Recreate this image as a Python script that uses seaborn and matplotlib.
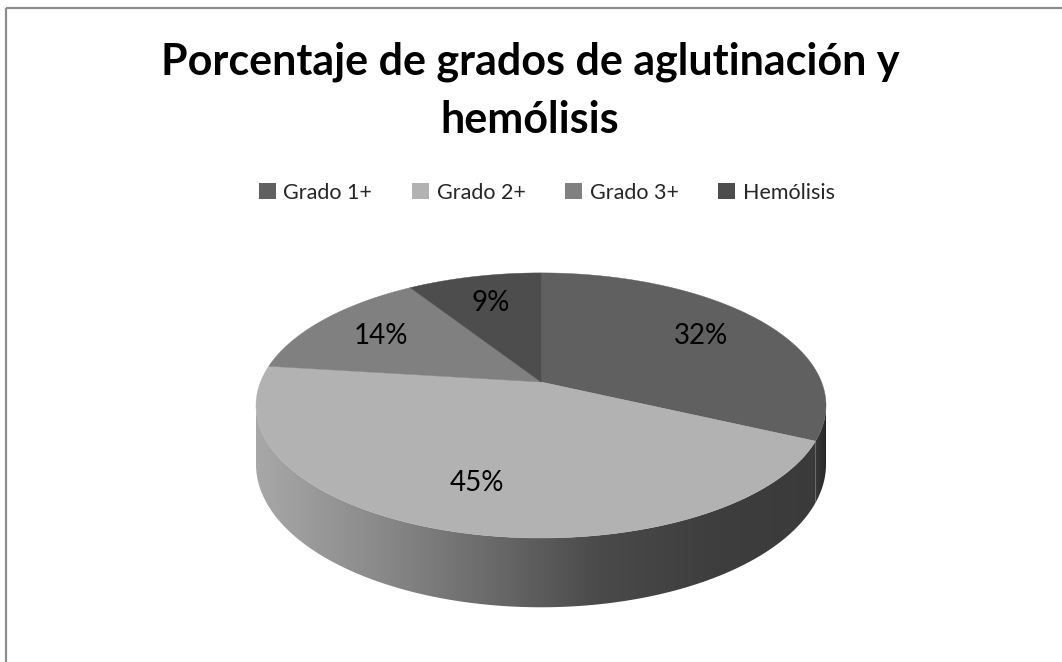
import numpy as np
import matplotlib
matplotlib.use("Agg")
import matplotlib.pyplot as plt
import seaborn as sns
from matplotlib.patches import Polygon, Patch
from matplotlib.colors import LinearSegmentedColormap

# ---------------------------
# Data
# ---------------------------
categories = ["Grado 1+", "Grado 2+", "Grado 3+", "Hemólisis"]
percent = [32, 45, 14, 9]
slice_colors = ["#606060", "#b2b2b2", "#808080", "#4d4d4d"]
title_lines = ["Porcentaje de grados de aglutinación y", "hemólisis"]

sns.set_theme(style="white")
plt.rcParams["font.family"] = ["Lato", "DejaVu Sans"]

# pie geometry in pixel space (perspective tilt like Excel 3D pie)
CX, CY = 541, 382      # apex of the slices
A, B, E = 280.5, 128.4, 0.177
DEPTH = 57


def project(u, v):
    d = 1 + E * v
    return CX + A * u / d, CY - B * v / d


def rim(t0, t1, n=200, drop=0.0):
    t = np.radians(np.linspace(t0, t1, n))
    x, y = project(np.cos(t), np.sin(t))
    if drop:
        y = y + drop / (1 + E * np.sin(t))
    return np.column_stack([x, y])


fig = plt.figure(figsize=(10.62, 6.62), dpi=100)
ax = fig.add_axes([0, 0, 1, 1])

# slice angles: start at top, clockwise
frac = np.array(percent) / np.sum(percent)
ends = 90 - 360 * np.cumsum(frac)
starts = np.concatenate([[90], ends[:-1]])

# visible side band spans between the silhouette points
t_right = -np.degrees(np.arcsin(E))
t_left = -180 - t_right
side_maps = {
    0: LinearSegmentedColormap.from_list("s1", ["#3c3c3c", "#262626"]),
    1: LinearSegmentedColormap.from_list("s2", ["#a8a8a8", "#8c8c8c", "#6c6c6c", "#4a4a4a", "#3e3e3e", "#3a3a3a"]),
}
x_lo, x_hi = CX - A * 1.02, CX + A * 1.02
for i, (s, e) in enumerate(zip(starts, ends)):
    lo, hi = max(e, t_left), min(s, t_right)
    if lo >= hi:
        continue
    top = rim(hi, lo)
    bot = rim(lo, hi, drop=DEPTH)
    pts = np.vstack([top, bot])
    poly = Polygon(pts, closed=True, facecolor="none", edgecolor="none")
    ax.add_patch(poly)
    if i == 1:
        x0, x1 = x_lo, x_hi
    else:
        x0, x1 = pts[:, 0].min() - 1, pts[:, 0].max() + 1
    grad = np.linspace(0, 1, 256).reshape(1, -1)
    im = ax.imshow(grad, cmap=side_maps[i], extent=[x0, x1, 662, 0], aspect="auto",
                   interpolation="bilinear", zorder=1)
    im.set_clip_path(poly)

# top faces
for s, e, c in zip(starts, ends, slice_colors):
    pts = np.vstack([[CX, CY], rim(s, e)])
    ax.add_patch(Polygon(pts, closed=True, facecolor=c, edgecolor=c, lw=0.3, zorder=2))

# percentage labels
for s, e, p in zip(starts, ends, percent):
    m = np.radians((s + e) / 2)
    x, y = project(0.72 * np.cos(m), 0.72 * np.sin(m))
    ax.text(x, y, f"{p}%", ha="center", va="center", fontsize=20, color="#000000", zorder=3)

# title, one text per line
for k, line in enumerate(title_lines):
    ax.text(530, 75 + 58 * k, line, ha="center", va="baseline", fontsize=31,
            fontweight="bold", color="#000000")

# legend
handles = [Patch(facecolor=c, edgecolor="none", label=l) for c, l in zip(slice_colors, categories)]
ax.legend(handles=handles, loc="center", bbox_to_anchor=(0.515, 0.709), ncol=4, frameon=False,
          fontsize=15.5, handlelength=0.78, handleheight=0.78, handletextpad=0.35,
          columnspacing=1.85, borderpad=0)

# chart border (only top/left visible in crop)
ax.plot([6, 6], [8, 662], color="#8c8c8c", lw=1.6, solid_capstyle="butt")
ax.plot([6, 1062], [8, 8], color="#8c8c8c", lw=1.6, solid_capstyle="butt")

ax.set_xlim(0, 1062)
ax.set_ylim(662, 0)
ax.set_aspect("auto")
ax.axis("off")

fig.savefig("out.png", dpi=100, facecolor="white")
